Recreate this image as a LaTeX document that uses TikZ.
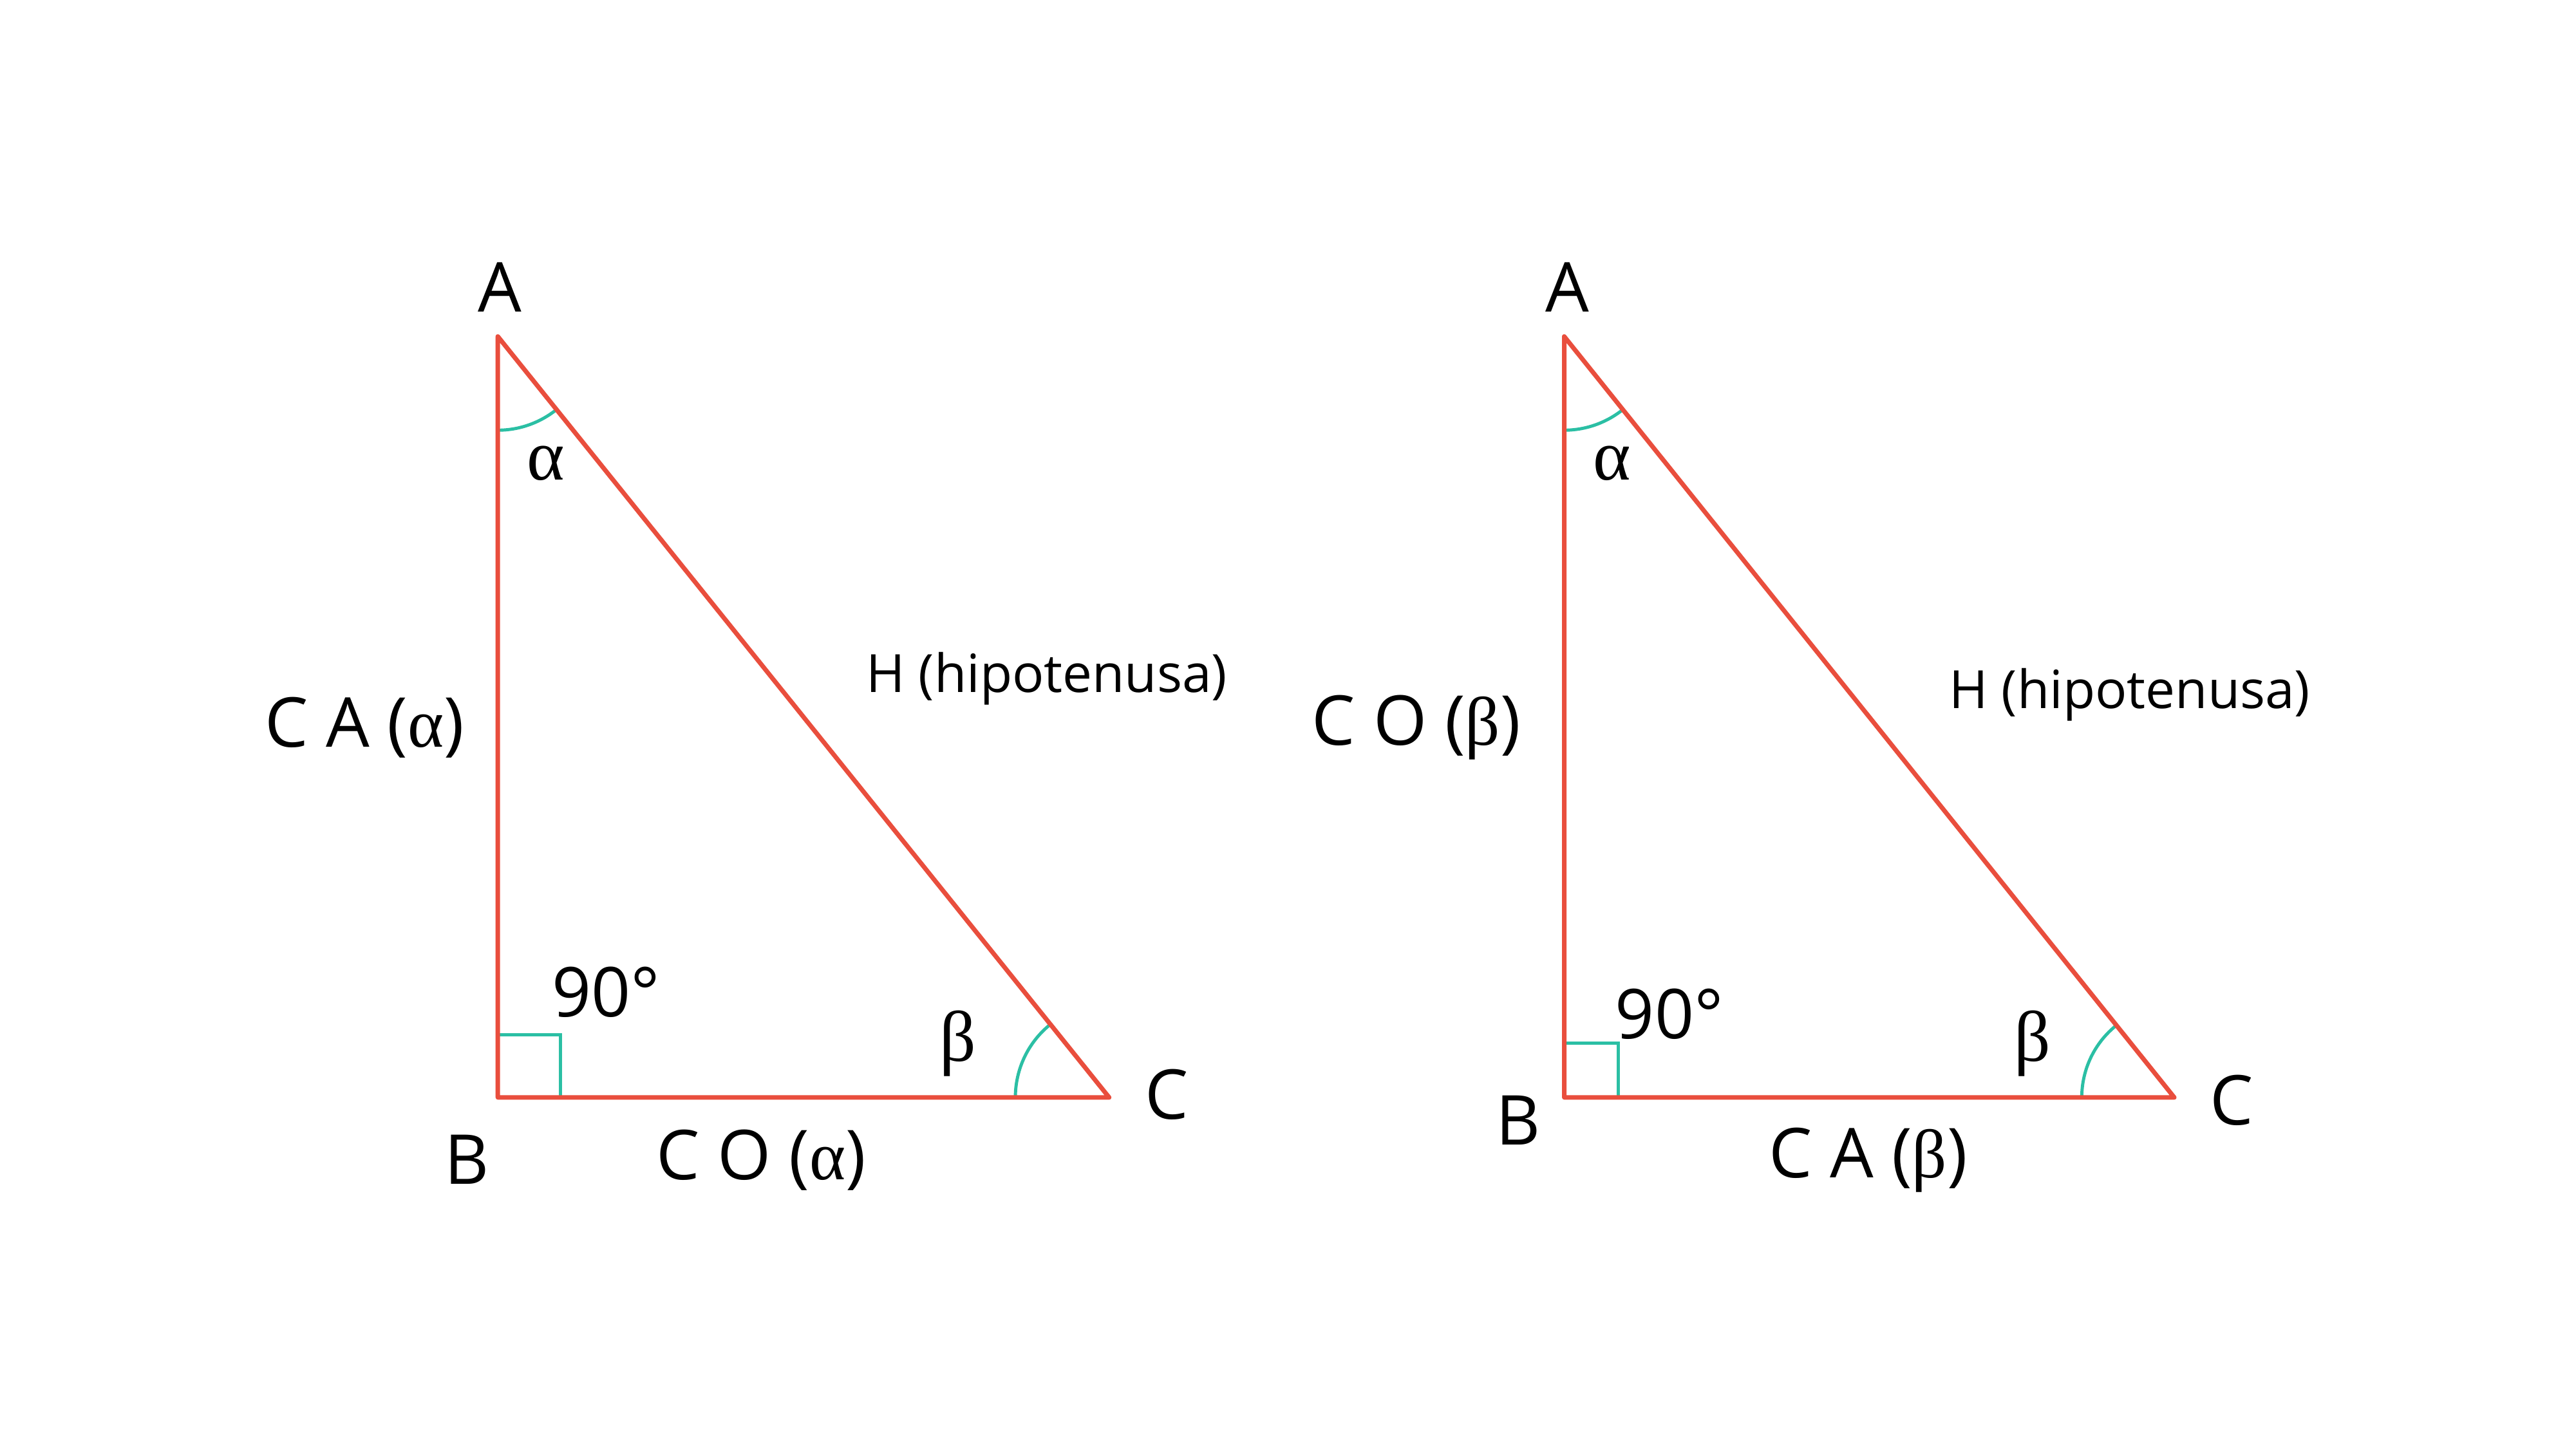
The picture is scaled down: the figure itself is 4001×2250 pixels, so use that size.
\documentclass[tikz,border=0pt]{standalone}
\usepackage{fontspec}
\setmainfont{Open Sans}
\newfontfamily\gkfont{Liberation Serif}
\usetikzlibrary{angles}
\definecolor{tri}{HTML}{E94E3D}
\definecolor{ang}{HTML}{2BBFA4}
\newcommand{\gk}[1]{{\gkfont #1}}
\begin{document}
\begin{tikzpicture}[x=0.01cm,y=0.01cm,
  side/.style={draw=tri,line width=2pt,line join=round},
  angmark/.style={draw=ang,line width=1.4pt},
  big/.style={inner sep=0pt,font=\fontsize{30.4}{36}\selectfont},
  small/.style={inner sep=0pt,font=\fontsize{23.3}{28}\selectfont},
  greek/.style={inner sep=0pt,font=\gkfont\fontsize{31.7}{36}\selectfont}]
\useasboundingbox (0,0) rectangle (4001,2250);
\begin{scope}[shift={(0,2250)},scale=0.99,shift={(0,-2250)}]
% left triangle
\coordinate (A1) at (781,1722);
\coordinate (B1) at (781,528);
\coordinate (C1) at (1740,528);
% right triangle
\coordinate (A2) at (2454,1722);
\coordinate (B2) at (2454,528);
\coordinate (C2) at (3411,528);
% angle marks
\pic[angmark,angle radius=1.455cm] {angle=B1--A1--C1};
\pic[angmark,angle radius=1.455cm] {angle=A1--C1--B1};
\pic[angmark,angle radius=1.455cm] {angle=B2--A2--C2};
\pic[angmark,angle radius=1.435cm] {angle=A2--C2--B2};
\draw[angmark] (B1) ++(0,98) -| ++(98,-98);
\draw[angmark] (B2) ++(0,85) -| ++(85,-85);
% triangles
\draw[side] (A1) -- (B1) -- (C1) -- cycle;
\draw[side] (A2) -- (B2) -- (C2) -- cycle;
% left labels
\node[big] (lA) at (784,1799) {A};
\node[greek] (la) at (856,1523) {α};
\node[big] (lCA) at (572,1108) {C A (\gk{α})};
\node[small] (lH) at (1642,1185) {H (hipotenusa)};
\node[big] (l90) at (951,693) {90°};
\node[greek] (lb) at (1503,613) {β};
\node[big] (lC) at (1830,533) {C};
\node[big] (lB) at (732,430) {B};
\node[big] (lCO) at (1194,430) {C O (\gk{α})};
% right labels
\node[big] (rA) at (2459,1799) {A};
\node[greek] (ra) at (2529,1523) {α};
\node[big] (rCO) at (2222,1108) {C O (\gk{β})};
\node[small] (rH) at (3341,1160) {H (hipotenusa)};
\node[big] (r90) at (2619,659) {90°};
\node[greek] (rb) at (3189,613) {β};
\node[big] (rC) at (3501,523) {C};
\node[big] (rB) at (2382,492) {B};
\node[big] (rCA) at (2931,430) {C A (\gk{β})};
\end{scope}
\end{tikzpicture}
\end{document}
